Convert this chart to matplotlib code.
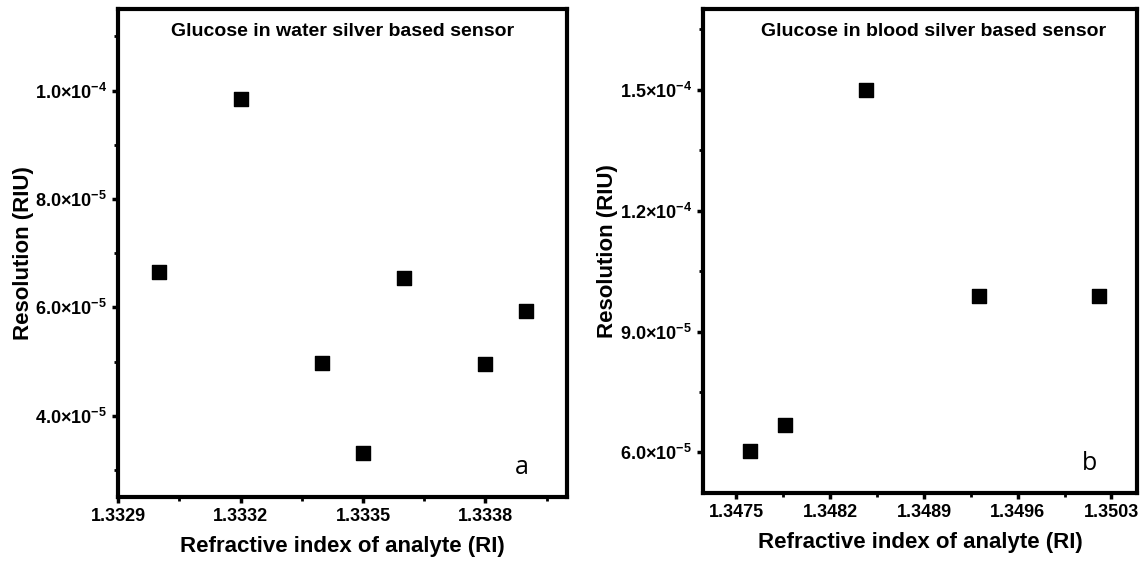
import matplotlib
matplotlib.use("Agg")
import matplotlib.pyplot as plt
from matplotlib.ticker import AutoMinorLocator

plt.rcParams["font.family"] = ["Liberation Sans", "DejaVu Sans"]
plt.rcParams["mathtext.fontset"] = "custom"
plt.rcParams["mathtext.rm"] = "Liberation Sans:bold"
plt.rcParams["mathtext.default"] = "rm"

# panel a: glucose in water
water_ri = [1.3330, 1.3332, 1.3334, 1.3335, 1.3336, 1.3338, 1.3339]
water_res = [6.65e-5, 9.85e-5, 4.97e-5, 3.31e-5, 6.54e-5, 4.95e-5, 5.93e-5]
water_xticks = [1.3329, 1.3332, 1.3335, 1.3338]
water_yticks = [4.0e-5, 6.0e-5, 8.0e-5, 1.0e-4]
water_ylabels = ["4.0×10$^{-5}$", "6.0×10$^{-5}$", "8.0×10$^{-5}$", "1.0×10$^{-4}$"]

# panel b: glucose in blood
blood_ri = [1.34760, 1.34786, 1.34847, 1.34931, 1.35021]
blood_res = [6.04e-5, 6.69e-5, 1.50e-4, 9.88e-5, 9.88e-5]
blood_xticks = [1.3475, 1.3482, 1.3489, 1.3496, 1.3503]
blood_yticks = [6.0e-5, 9.0e-5, 1.2e-4, 1.5e-4]
blood_ylabels = ["6.0×10$^{-5}$", "9.0×10$^{-5}$", "1.2×10$^{-4}$", "1.5×10$^{-4}$"]


def style_panel(ax, title, title_x, letter, letter_x):
    for side in ax.spines.values():
        side.set_linewidth(3)
    ax.xaxis.set_minor_locator(AutoMinorLocator(2))
    ax.yaxis.set_minor_locator(AutoMinorLocator(2))
    ax.tick_params(which="major", direction="out", length=4, width=2.5,
                   labelsize=13, pad=4)
    ax.tick_params(which="minor", direction="out", length=3, width=2)
    for lab in ax.get_xticklabels() + ax.get_yticklabels():
        lab.set_fontweight("bold")
    ax.set_xlabel("Refractive index of analyte (RI)", fontsize=16,
                  fontweight="bold", labelpad=8)
    ax.set_ylabel("Resolution (RIU)", fontsize=16, fontweight="bold",
                  labelpad=1)
    ax.text(title_x, 0.955, title, transform=ax.transAxes, ha="center",
            va="center", fontsize=14, fontweight="bold")
    ax.text(letter_x, 0.06, letter, transform=ax.transAxes, ha="center",
            va="center", fontsize=18, family="Open Sans")


fig = plt.figure(figsize=(11.46, 5.62), dpi=100)
ax_a = fig.add_axes([0.1032, 0.1157, 0.3915, 0.8676])
ax_b = fig.add_axes([0.6134, 0.1233, 0.3787, 0.8601])

ax_a.scatter(water_ri, water_res, marker="s", s=90, color="black", zorder=3)
ax_a.set_xlim(1.3329, 1.33400)
ax_a.set_ylim(2.5e-5, 1.15e-4)
ax_a.set_xticks(water_xticks, [f"{v:.4f}" for v in water_xticks])
ax_a.set_yticks(water_yticks, water_ylabels)
style_panel(ax_a, "Glucose in water silver based sensor", 0.5, "a", 0.9)

ax_b.scatter(blood_ri, blood_res, marker="s", s=90, color="black", zorder=3)
ax_b.set_xlim(1.34725, 1.35049)
ax_b.set_ylim(5.0e-5, 1.7e-4)
ax_b.set_xticks(blood_xticks, [f"{v:.4f}" for v in blood_xticks])
ax_b.set_yticks(blood_yticks, blood_ylabels)
style_panel(ax_b, "Glucose in blood silver based sensor", 0.532, "b", 0.89)

fig.savefig("out.png", dpi=100)
